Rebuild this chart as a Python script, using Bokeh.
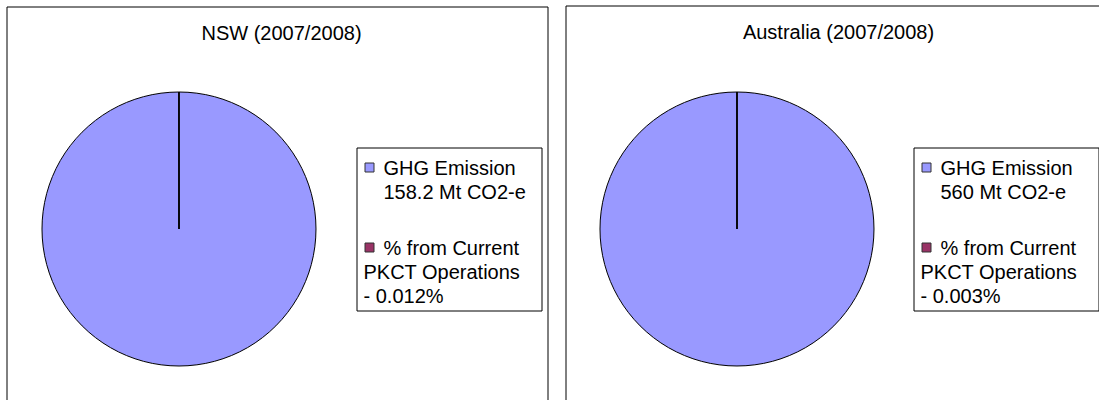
import math

from bokeh.plotting import figure
from bokeh.models import Range1d, ColumnDataSource
from bokeh.core.properties import value
from bokeh.embed import file_html
from bokeh.resources import INLINE

# ---- data -------------------------------------------------------------
titles = ["NSW (2007/2008)", "Australia (2007/2008)"]
ghg_emission_mt = [158.2, 560]          # total GHG emission, Mt CO2-e
pkct_share_pct = [0.012, 0.003]         # share from current PKCT operations, %
series_names = ["GHG Emission", "% from Current PKCT Operations"]
series_colors = ["#9999FF", "#993366"]

# ---- canvas -----------------------------------------------------------
W, H = 1099, 400
FONT = value("Liberation Sans")
FSIZE = value("20px")

p = figure(width=W, height=H, x_range=Range1d(0, W), y_range=Range1d(0, H),
           x_axis_type=None, y_axis_type=None, toolbar_location=None,
           output_backend="svg", min_border=0)
p.grid.visible = False
p.outline_line_color = None
p.background_fill_color = "white"
p.border_fill_color = "white"


def sy(y):
    """top-down pixel row -> data y"""
    return H - y


offsets = [0, 557]

for i, title in enumerate(titles):
    ox = offsets[i]

    # panel frame
    left_edge = 6.5 if i == 0 else 565.5
    right_edge = 547.5 if i == 0 else 1130
    top_edge = 6.5 if i == 0 else 5.5
    p.quad(left=[left_edge], right=[right_edge], top=[sy(top_edge)], bottom=[sy(430)],
           fill_color=None, line_color="#000000", line_width=1)

    # title
    p.text(x=[281 + ox], y=[sy(32 if i == 0 else 31)], text=[title],
           text_font=FONT, text_font_size=FSIZE, text_color="#000000",
           text_align="center", text_baseline="alphabetic")

    # pie slices, starting at 12 o'clock and running clockwise
    total = ghg_emission_mt[i]
    pkct = total * pkct_share_pct[i] / 100.0
    vals = [total - pkct, pkct]
    s = sum(vals)
    starts, ends = [], []
    acc = 0.0
    for v in vals:
        starts.append(math.pi / 2 - 2 * math.pi * acc / s)
        acc += v
        ends.append(math.pi / 2 - 2 * math.pi * acc / s)
    src = ColumnDataSource(dict(x=[178.5 + ox + (1 if i else 0)] * 2, y=[sy(228.5)] * 2,
                                start=starts, end=ends, color=series_colors))
    p.wedge(x="x", y="y", radius=137, start_angle="start", end_angle="end",
            direction="clock", fill_color="color", line_color="#000000",
            line_width=1, source=src)

    # legend box
    p.quad(left=[356.5 + ox], right=[541.5 + ox], top=[sy(147.5)], bottom=[sy(310.5)],
           fill_color="white", line_color="#000000", line_width=1)

    # legend swatches
    p.quad(left=[364.5 + ox, 364.5 + ox], right=[373.5 + ox, 373.5 + ox],
           top=[sy(162.5), sy(242.5)], bottom=[sy(171.5), sy(251.5)],
           fill_color=series_colors, line_color="#333333", line_width=1)

    # legend labels
    lines = [
        series_names[0],
        f"{ghg_emission_mt[i]:g} Mt CO2-e",
        "% from Current",
        "PKCT Operations",
        f"- {pkct_share_pct[i]:.3f}%",
    ]
    xs = [383 + ox, 383 + ox, 383 + ox, 363 + ox, 363 + ox]
    ys = [sy(167), sy(191), sy(247), sy(271), sy(295)]
    p.text(x=xs, y=ys, text=lines, text_font=FONT, text_font_size=FSIZE,
           text_color="#000000", text_align="left", text_baseline="alphabetic")

open("out.html", "w").write(file_html(p, INLINE))
